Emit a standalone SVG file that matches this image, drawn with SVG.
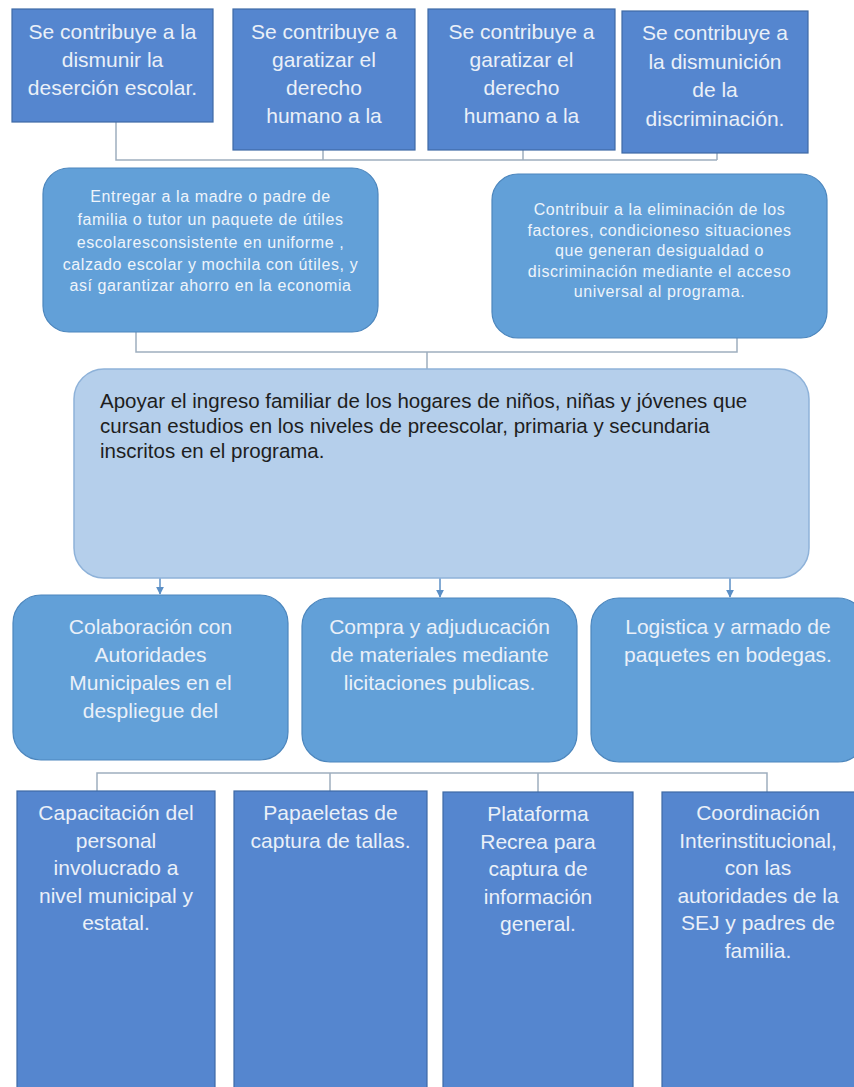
<svg xmlns="http://www.w3.org/2000/svg" width="854" height="1087" viewBox="0 0 854 1087">
<defs>
<style>
.sq{fill:#5586cf;stroke:#3e6aa6;stroke-width:1.2}
.rd{fill:#62a0d8;stroke:#4c86bd;stroke-width:1.2}
.big{fill:#b5cfeb;stroke:#8eb2d9;stroke-width:1.5}
.t{font-family:"Liberation Sans",Arial,sans-serif;font-size:21px;fill:#eaf0f8;text-anchor:middle}
.s{font-family:"Liberation Sans",Arial,sans-serif;font-size:16px;letter-spacing:0.6px;fill:#eef4fb;text-anchor:middle}
.b{font-family:"Liberation Sans",Arial,sans-serif;font-size:20.5px;fill:#1e1e1e}
.c{fill:none;stroke:#9eaebf;stroke-width:1.5}
.a{fill:none;stroke:#5b8fc6;stroke-width:1.5}
</style>
<marker id="ah" viewBox="0 0 10 10" refX="9" refY="5" markerWidth="8" markerHeight="8" markerUnits="userSpaceOnUse" orient="auto">
<path d="M0,0 L10,5 L0,10 z" fill="#5b8fc6"/>
</marker>
</defs>
<rect width="854" height="1087" fill="#ffffff"/>

<g id="connectors">
<path class="c" d="M116,122 V160 H717 M323,150 V160 M523,150 V160 M717,153 V160"/>
<path class="c" d="M136,332 V352 H737 V338 M427,352 V370"/>
<path class="a" d="M160,578 V594" marker-end="url(#ah)"/>
<path class="a" d="M440,578 V597" marker-end="url(#ah)"/>
<path class="a" d="M730,578 V597" marker-end="url(#ah)"/>
<path class="c" d="M97,791 V773 H767 V792 M330,773 V791 M538,773 V792"/>
</g>

<g id="n1">
<rect class="sq" x="12" y="9" width="201" height="113"/>
<text class="t" x="112.5" y="39">Se contribuye a la</text>
<text class="t" x="112.5" y="67">dismunir la</text>
<text class="t" x="112.5" y="95">deserción escolar.</text>
</g>
<g id="n2">
<rect class="sq" x="233" y="9" width="182" height="141"/>
<text class="t" x="324" y="39">Se contribuye a</text>
<text class="t" x="324" y="67">garatizar el</text>
<text class="t" x="324" y="95">derecho</text>
<text class="t" x="324" y="123">humano a la</text>
</g>
<g id="n3">
<rect class="sq" x="428" y="9" width="187" height="141"/>
<text class="t" x="521.5" y="39">Se contribuye a</text>
<text class="t" x="521.5" y="67">garatizar el</text>
<text class="t" x="521.5" y="95">derecho</text>
<text class="t" x="521.5" y="123">humano a la</text>
</g>
<g id="n4">
<rect class="sq" x="622" y="11" width="186" height="142"/>
<text class="t" x="715" y="40">Se contribuye a</text>
<text class="t" x="715" y="68.5">la dismunición</text>
<text class="t" x="715" y="97">de la</text>
<text class="t" x="715" y="125.5">discriminación.</text>
</g>

<g id="n5">
<rect class="rd" x="43" y="168" width="335" height="164" rx="26"/>
<text class="s" x="210.5" y="202">Entregar a la madre o padre de</text>
<text class="s" x="210.5" y="225">familia o tutor un paquete de útiles</text>
<text class="s" x="210.5" y="248">escolaresconsistente en uniforme ,</text>
<text class="s" x="210.5" y="270">calzado escolar y mochila con útiles, y</text>
<text class="s" x="210.5" y="291">así garantizar ahorro en la economia</text>
</g>
<g id="n6">
<rect class="rd" x="492" y="174" width="335" height="164" rx="26"/>
<text class="s" x="659.5" y="215">Contribuir a la eliminación de los</text>
<text class="s" x="659.5" y="235.5">factores, condicioneso situaciones</text>
<text class="s" x="659.5" y="256">que generan desigualdad o</text>
<text class="s" x="659.5" y="276.5">discriminación mediante el acceso</text>
<text class="s" x="659.5" y="297">universal al programa.</text>
</g>

<g id="n7">
<rect class="big" x="74" y="369" width="735" height="209" rx="30"/>
<text class="b" x="100" y="408">Apoyar el ingreso familiar de los hogares de niños, niñas y jóvenes que</text>
<text class="b" x="100" y="433">cursan estudios en los niveles de preescolar, primaria y secundaria</text>
<text class="b" x="100" y="458">inscritos en el programa.</text>
</g>

<g id="n8">
<rect class="rd" x="13" y="595" width="275" height="165" rx="28"/>
<text class="t" x="150.5" y="634">Colaboración con</text>
<text class="t" x="150.5" y="662">Autoridades</text>
<text class="t" x="150.5" y="690">Municipales en el</text>
<text class="t" x="150.5" y="718">despliegue del</text>
</g>
<g id="n9">
<rect class="rd" x="302" y="598" width="275" height="164" rx="28"/>
<text class="t" x="439.5" y="634">Compra y adjuducación</text>
<text class="t" x="439.5" y="662">de materiales mediante</text>
<text class="t" x="439.5" y="690">licitaciones publicas.</text>
</g>
<g id="n10">
<rect class="rd" x="591" y="598" width="275" height="164" rx="28"/>
<text class="t" x="728" y="634">Logistica y armado de</text>
<text class="t" x="728" y="662">paquetes en bodegas.</text>
</g>

<g id="n11">
<rect class="sq" x="17" y="791" width="198" height="300"/>
<text class="t" x="116" y="820">Capacitación del</text>
<text class="t" x="116" y="847.5">personal</text>
<text class="t" x="116" y="875">involucrado a</text>
<text class="t" x="116" y="902.5">nivel municipal y</text>
<text class="t" x="116" y="930">estatal.</text>
</g>
<g id="n12">
<rect class="sq" x="234" y="791" width="193" height="300"/>
<text class="t" x="330.5" y="820">Papaeletas de</text>
<text class="t" x="330.5" y="847.5">captura de tallas.</text>
</g>
<g id="n13">
<rect class="sq" x="443" y="792" width="190" height="300"/>
<text class="t" x="538" y="821">Plataforma</text>
<text class="t" x="538" y="848.5">Recrea para</text>
<text class="t" x="538" y="876">captura de</text>
<text class="t" x="538" y="903.5">información</text>
<text class="t" x="538" y="931">general.</text>
</g>
<g id="n14">
<rect class="sq" x="662" y="792" width="200" height="300"/>
<text class="t" x="758" y="820">Coordinación</text>
<text class="t" x="758" y="847.5">Interinstitucional,</text>
<text class="t" x="758" y="875">con las</text>
<text class="t" x="758" y="902.5">autoridades de la</text>
<text class="t" x="758" y="930">SEJ y padres de</text>
<text class="t" x="758" y="957.5">familia.</text>
</g>
</svg>
